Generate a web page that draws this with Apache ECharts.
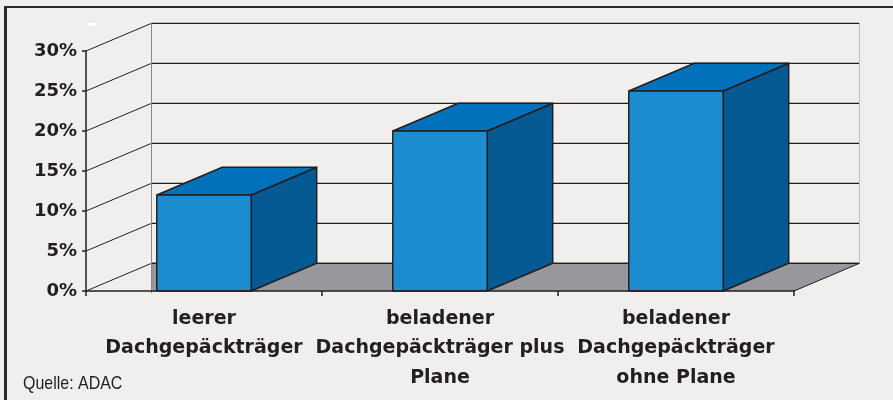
<!DOCTYPE html>
<html>
<head>
<meta charset="utf-8">
<script src="https://cdn.jsdelivr.net/npm/echarts@6/dist/echarts.min.js"></script>
<style>
  html, body { margin: 0; padding: 0; background: #f0efed; }
  #chart { width: 893px; height: 400px; }
</style>
</head>
<body>
<div id="chart"></div>
<script>
var categories = ['leerer\nDachgepäckträger', 'beladener\nDachgepäckträger plus\nPlane', 'beladener\nDachgepäckträger\nohne Plane'];
var values = [12, 20, 25];
var yTicks = [0, 5, 10, 15, 20, 25, 30];

// depth of the fake 3d box
var DX = 65.5, DY = -27.7;

var myChart = echarts.init(document.getElementById('chart'));

function wallItem(params, api) {
    var cs = params.coordSys;
    var y = api.coord([0, api.value(0)])[1];
    var x0 = cs.x, x1 = cs.x + cs.width;
    return {
        type: 'group',
        children: [
            { type: 'line', shape: { x1: x0, y1: y, x2: x0 + DX, y2: y + DY }, style: { stroke: '#231f20', lineWidth: 1 } },
            { type: 'line', shape: { x1: x0 + DX, y1: y + DY, x2: x1 + DX, y2: y + DY }, style: { stroke: '#231f20', lineWidth: 1.2 } }
        ]
    };
}

function floorItem(params, api) {
    var cs = params.coordSys;
    var yb = cs.y + cs.height, yt = cs.y;
    var x0 = cs.x, x1 = cs.x + cs.width;
    return {
        type: 'group',
        children: [
            { type: 'polygon', shape: { points: [[x0 + DX, yb + DY], [x1 + DX, yb + DY], [x1, yb], [x0 + DX, yb]] },
              style: { fill: '#98989c' } },
            { type: 'line', shape: { x1: x1 + DX, y1: yb + DY, x2: x1, y2: yb }, style: { stroke: '#231f20', lineWidth: 1 } },
            { type: 'line', shape: { x1: x0 + DX, y1: yb + DY, x2: x1 + DX, y2: yb + DY }, style: { stroke: '#231f20', lineWidth: 1.2 } },
            { type: 'line', shape: { x1: x0 + DX, y1: yt + DY, x2: x0 + DX, y2: yb + 2 }, style: { stroke: '#8a8a8a', lineWidth: 1 } },
            { type: 'line', shape: { x1: x1 + DX, y1: yt + DY, x2: x1 + DX, y2: yb + DY }, style: { stroke: '#bdbdbd', lineWidth: 1 } }
        ]
    };
}

function barItem(params, api) {
    var idx = api.value(0);
    var base = api.coord([idx, 0]);
    var top = api.coord([idx, api.value(1)]);
    var bw = api.size([1, 0])[0] * 0.4;
    var l = base[0] - bw / 2, r = base[0] + bw / 2, t = top[1], b = base[1];
    var edge = { stroke: '#231f20', lineWidth: 1.5, lineJoin: 'round' };
    return {
        type: 'group',
        children: [
            { type: 'polygon', shape: { points: [[r, t], [r + DX, t + DY], [r + DX, b + DY], [r, b]] },
              style: Object.assign({ fill: '#065a93' }, edge) },
            { type: 'polygon', shape: { points: [[l, t], [r, t], [r + DX, t + DY], [l + DX, t + DY]] },
              style: Object.assign({ fill: '#0071ba' }, edge) },
            { type: 'rect', shape: { x: l, y: t, width: bw, height: b - t },
              style: Object.assign({ fill: '#1b8dd0' }, edge) }
        ]
    };
}

option = {
    backgroundColor: '#f0efed',
    animation: false,
    grid: {
        left: 86,
        right: 99,
        top: 51,
        bottom: 109
    },
    xAxis: {
        type: 'category',
        data: categories,
        axisLine: { lineStyle: { color: '#231f20', width: 1.5 } },
        axisTick: { show: true, length: 5, lineStyle: { color: '#231f20', width: 1.5 } },
        axisLabel: {
            margin: 13,
            interval: 0,
            color: '#231f20',
            fontFamily: 'DejaVu Sans',
            fontWeight: 'bold',
            fontSize: 19,
            lineHeight: 29.5
        },
        z: 10
    },
    yAxis: {
        type: 'value',
        min: 0,
        max: 30,
        interval: 5,
        axisLine: { show: true, lineStyle: { color: '#231f20', width: 1.5 } },
        axisTick: { show: true, length: 4, lineStyle: { color: '#231f20', width: 1.5 } },
        splitLine: { show: false },
        axisLabel: {
            formatter: '{value}%',
            margin: 9,
            color: '#231f20',
            fontFamily: 'DejaVu Sans',
            fontWeight: 'bold',
            fontSize: 18
        }
    },
    series: [
        {
            type: 'custom',
            renderItem: wallItem,
            data: yTicks.map(function (v) { return [v]; }),
            encode: { y: 0 },
            silent: true,
            z: 1
        },
        {
            type: 'custom',
            renderItem: floorItem,
            data: [[0]],
            silent: true,
            z: 2
        },
        {
            type: 'custom',
            renderItem: barItem,
            data: values.map(function (v, i) { return [i, v]; }),
            encode: { x: 0, y: 1 },
            z: 3
        }
    ],
    graphic: [
        { type: 'rect', shape: { x: 4, y: 6, width: 889, height: 2 }, style: { fill: '#2b2b2b' } },
        { type: 'rect', shape: { x: 4, y: 6, width: 3, height: 394 }, style: { fill: '#2b2b2b' } },
        { type: 'rect', shape: { x: 87, y: 23, width: 9, height: 3 }, style: { fill: '#ffffff' } },
        {
            type: 'text',
            left: 23,
            top: 374,
            scaleX: 0.84,
            style: {
                text: 'Quelle: ADAC',
                fill: '#231f20',
                font: '19px "Liberation Sans"'
            }
        }
    ]
};
myChart.setOption(option);
</script>
</body>
</html>
